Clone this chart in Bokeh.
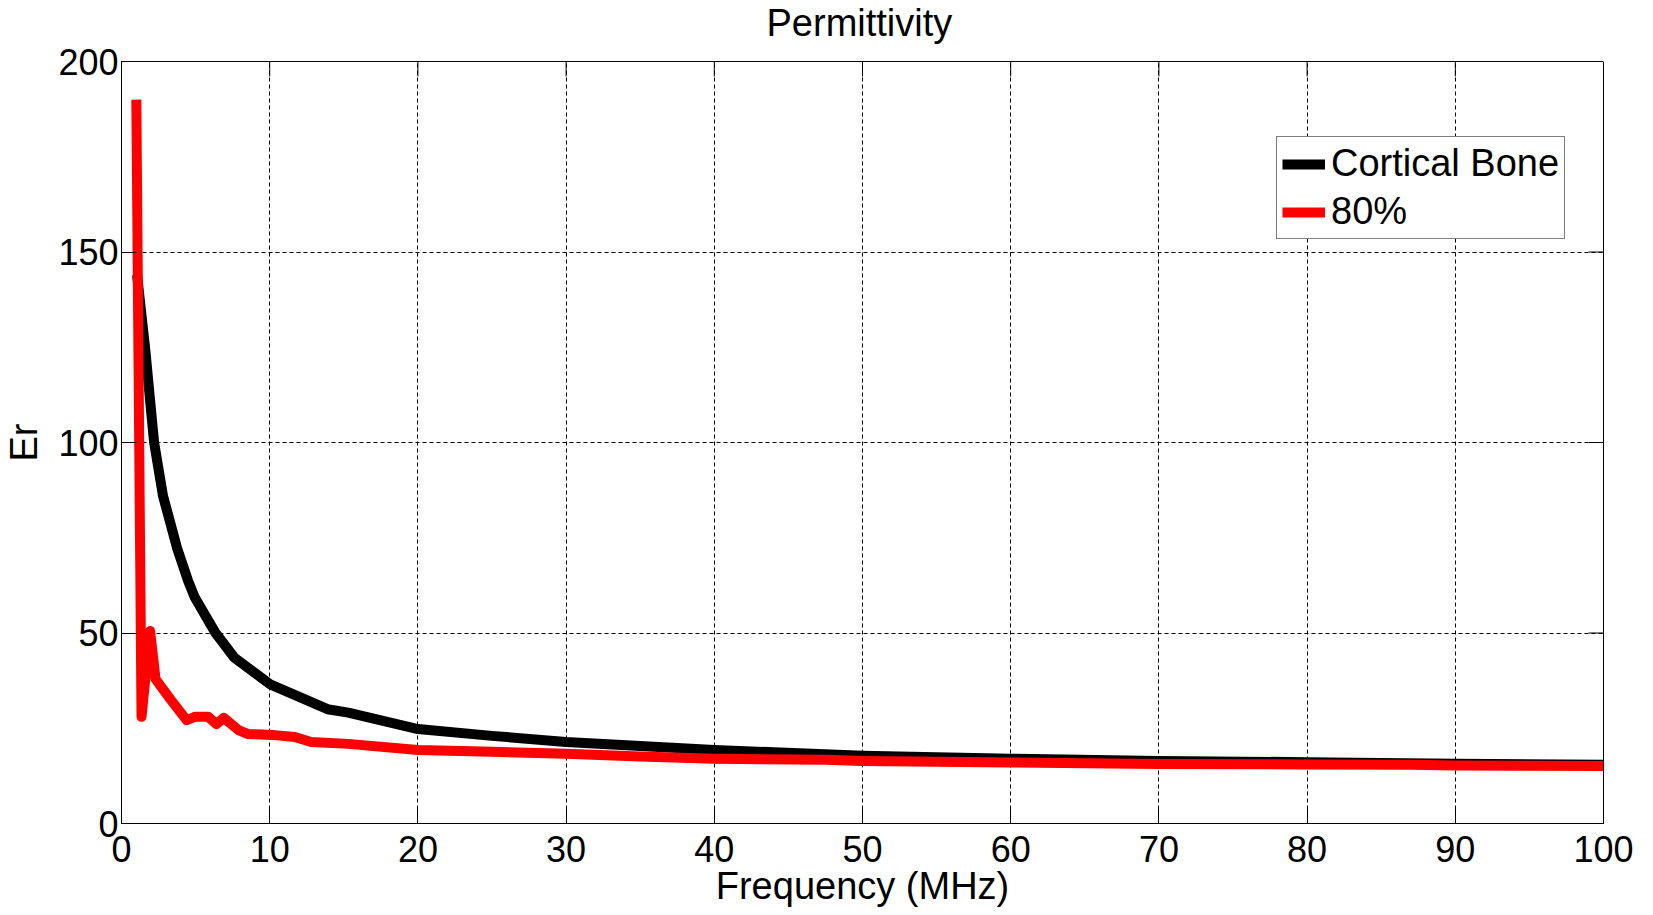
import math
from bokeh.plotting import figure
from bokeh.models import Range1d, FixedTicker, Legend, LegendItem, LinearAxis
from bokeh.embed import file_html
from bokeh.resources import INLINE

# ---- data ----
bone_f = [1.05, 1.6, 2.2, 2.8, 3.75, 4.5, 4.95, 6.33, 7.6, 10, 13.9, 15.3, 20, 25, 30, 40, 50, 60, 70, 80, 90, 100]
bone_er = [144, 124.5, 100, 86, 72.3, 63.6, 59.3, 50.1, 43.6, 36.6, 30.0, 29.1, 24.8, 23.0, 21.4, 19.3, 17.8, 17.0, 16.4, 16.1, 15.7, 15.4]

p80_f = [1.0, 1.35, 1.93, 2.3, 3.3, 4.4, 4.95, 5.85, 6.4, 6.9, 7.9, 8.5, 10.3, 11.7, 12.8, 15.3, 20, 25, 30, 35, 40, 47.5, 50, 60, 70, 80, 87, 90, 100]
p80_er = [190, 28, 50.5, 37.9, 32.6, 27.1, 28, 28, 26.1, 27.7, 24.5, 23.5, 23.2, 22.7, 21.4, 20.9, 19.3, 18.8, 18.3, 17.6, 17.0, 16.7, 16.4, 16.0, 15.6, 15.5, 15.4, 15.2, 15.1]

x_ticks = [0, 10, 20, 30, 40, 50, 60, 70, 80, 90, 100]
y_ticks = [0, 50, 100, 150, 200]

series_names = ["Cortical Bone", "80%"]
title_text = "Permittivity"
x_label = "Frequency (MHz)"
y_label = "Er"

FONT = "Liberation Sans"
x_lo, x_hi = x_ticks[0], x_ticks[-1]
y_lo, y_hi = y_ticks[0], y_ticks[-1]

p = figure(width=1637, height=909, output_backend="svg", toolbar_location=None,
           x_range=Range1d(x_lo, x_hi), y_range=Range1d(y_lo, y_hi),
           min_border_left=115, min_border_right=34, min_border_top=61, min_border_bottom=82)

xax = p.below[0]
yax = p.left[0]
xgrid = p.xgrid[0]
ygrid = p.ygrid[0]

p.title.text = title_text
p.title.text_font = FONT
p.title.text_font_size = "38px"
p.title.text_font_style = "normal"
p.title.align = "left"
p.title.offset = 645
p.title.text_color = "black"
p.title.standoff = -20

p.background_fill_color = "white"
p.border_fill_color = "white"
p.outline_line_color = "black"
p.outline_line_width = 1

xt = FixedTicker(ticks=x_ticks)
yt = FixedTicker(ticks=y_ticks)

for ax, tk in ((xax, xt), (yax, yt)):
    ax.ticker = tk
    ax.major_label_text_font = FONT
    ax.major_label_text_font_size = "36px"
    ax.major_label_text_color = "black"
    ax.axis_label_text_font = FONT
    ax.axis_label_text_font_size = "38px"
    ax.axis_label_text_font_style = "normal"
    ax.axis_label_text_color = "black"
    ax.major_tick_in = 15
    ax.major_tick_out = 0
    ax.minor_tick_in = 0
    ax.minor_tick_out = 0
    ax.axis_line_color = "black"
    ax.major_tick_line_color = "black"

xax.axis_label = x_label
xax.major_label_standoff = 12
xax.axis_label_standoff = 0
yax.axis_label = y_label
yax.major_label_standoff = 3
yax.axis_label_standoff = 10

for g in (xgrid, ygrid):
    g.grid_line_color = "black"
    g.grid_line_width = 1
    g.grid_line_dash = "4 3"
    g.grid_line_alpha = 1.0
xgrid.ticker = xt
ygrid.ticker = yt

# invisible spacer between the title and the box: one white tick outside the box, labels not drawn
spacer = LinearAxis(ticker=FixedTicker(ticks=[x_hi]), major_tick_out=28, major_tick_in=0,
                    minor_tick_in=0, minor_tick_out=0, axis_line_color=None,
                    major_tick_line_color="white", minor_tick_line_color=None,
                    major_label_text_color=None, major_label_standoff=0,
                    major_label_text_font_size="1px")
p.add_layout(spacer, "above")

# inward ticks on the top and right edges of the box (half of each dash is clipped by the frame)
p.scatter(x=x_ticks, y=[y_hi] * len(x_ticks), marker="dash", angle=math.pi / 2, size=30,
          line_color="black", line_width=1)
p.scatter(x=[x_hi] * len(y_ticks), y=y_ticks, marker="dash", size=30,
          line_color="black", line_width=1)

r_bone = p.line(bone_f, bone_er, line_color="black", line_width=10, line_join="round")
r_80 = p.line(p80_f, p80_er, line_color="#ff0000", line_width=10, line_join="round")

legend = Legend(items=[LegendItem(label=series_names[0], renderers=[r_bone]),
                       LegendItem(label=series_names[1], renderers=[r_80])],
                location=(1155, 584))
legend.label_text_font = FONT
legend.label_text_font_size = "38px"
legend.label_text_color = "black"
legend.glyph_width = 43
legend.glyph_height = 38
legend.label_height = 38
legend.label_standoff = 6
legend.spacing = 5
legend.padding = 5
legend.margin = 0
legend.border_line_color = "black"
legend.border_line_width = 1
legend.background_fill_color = "white"
legend.background_fill_alpha = 1.0
p.add_layout(legend, "center")

open("out.html", "w").write(file_html(p, INLINE))
